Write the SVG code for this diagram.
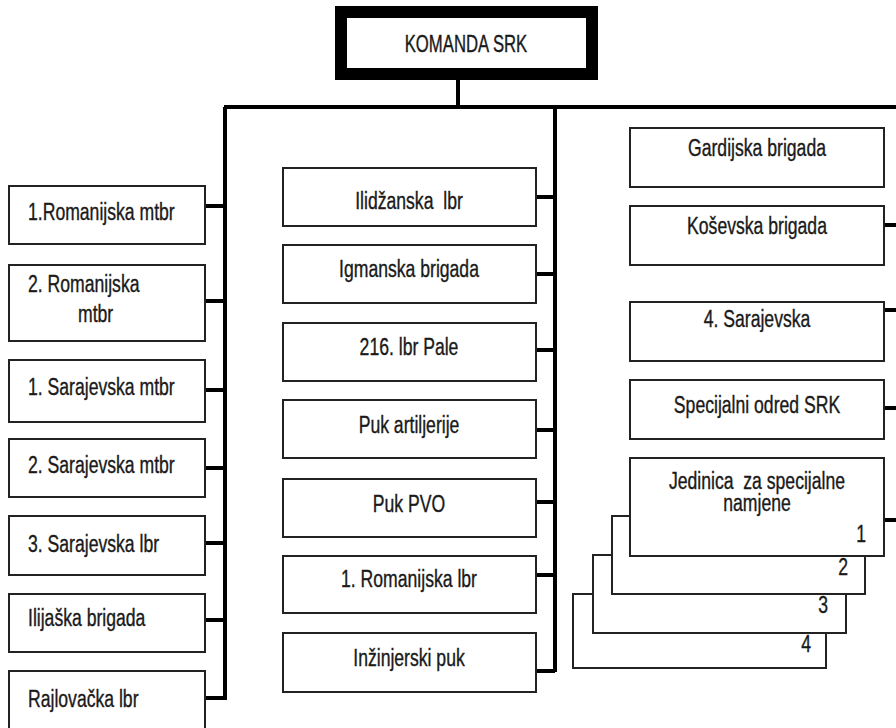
<svg xmlns="http://www.w3.org/2000/svg" width="896" height="728" viewBox="0 0 896 728">
<style>
.bg{fill:#fff}
.box{fill:#fff;stroke:#222;stroke-width:2}
.top{fill:#fff;stroke:#000;stroke-width:12}
.con{fill:none;stroke:#000;stroke-width:4}
text{font-family:"Liberation Sans",Arial,sans-serif;font-size:22px;fill:#1a1a1a;stroke:#1a1a1a;stroke-width:0.35}
.c{text-anchor:middle}
.e{text-anchor:end}
</style>
<rect class="bg" x="0" y="0" width="896" height="728"/>

<g id="connectors">
<path class="con" d="M458 80V107M224 107H900M225 107V700M555 107V672"/>
<path class="con" d="M205 206H225M205 301H225M205 390H225M205 468H225M205 543H225M205 620H225M205 698H225"/>
<path class="con" d="M536 197H555M536 274H555M536 350H555M536 430H555M536 502H555M536 575H555M536 671H555"/>
<path class="con" d="M884 225H900M884 310H900M884 408H900M884 520H900"/>
</g>

<g id="komanda">
<rect class="top" x="341" y="12" width="251" height="62"/>
<text class="c" transform="matrix(0.76 0 0 1.1 466 52)">KOMANDA SRK</text>
</g>

<g id="l1"><rect class="box" x="9" y="186" width="196" height="58"/><text transform="matrix(0.8 0 0 1.12 28 220)">1.Romanijska mtbr</text></g>
<g id="l2"><rect class="box" x="9" y="265" width="196" height="76"/><text transform="matrix(0.8 0 0 1.12 28 292)">2. Romanijska</text><text transform="matrix(0.8 0 0 1.12 78 322)">mtbr</text></g>
<g id="l3"><rect class="box" x="9" y="360" width="196" height="62"/><text transform="matrix(0.8 0 0 1.12 28 395)">1. Sarajevska mtbr</text></g>
<g id="l4"><rect class="box" x="9" y="439" width="196" height="58"/><text transform="matrix(0.8 0 0 1.12 28 473)">2. Sarajevska mtbr</text></g>
<g id="l5"><rect class="box" x="9" y="516" width="196" height="59"/><text transform="matrix(0.8 0 0 1.12 28 552)">3. Sarajevska lbr</text></g>
<g id="l6"><rect class="box" x="9" y="594" width="196" height="58"/><text transform="matrix(0.8 0 0 1.12 28 626)">Ilijaška brigada</text></g>
<g id="l7"><rect class="box" x="9" y="671" width="196" height="70"/><text transform="matrix(0.8 0 0 1.12 28 707)">Rajlovačka lbr</text></g>

<g id="m1"><rect class="box" x="283" y="168" width="253" height="58"/><text class="c" transform="matrix(0.8 0 0 1.12 409 209)">Ilidžanska&#160; lbr</text></g>
<g id="m2"><rect class="box" x="283" y="245" width="253" height="58"/><text class="c" transform="matrix(0.8 0 0 1.12 409 277)">Igmanska brigada</text></g>
<g id="m3"><rect class="box" x="283" y="323" width="253" height="58"/><text class="c" transform="matrix(0.8 0 0 1.12 409 355)">216. lbr Pale</text></g>
<g id="m4"><rect class="box" x="283" y="400" width="253" height="58"/><text class="c" transform="matrix(0.8 0 0 1.12 409 433)">Puk artiljerije</text></g>
<g id="m5"><rect class="box" x="283" y="479" width="253" height="58"/><text class="c" transform="matrix(0.8 0 0 1.12 409 512)">Puk PVO</text></g>
<g id="m6"><rect class="box" x="283" y="556" width="253" height="57"/><text class="c" transform="matrix(0.8 0 0 1.12 409 587)">1. Romanijska lbr</text></g>
<g id="m7"><rect class="box" x="283" y="633" width="253" height="59"/><text class="c" transform="matrix(0.8 0 0 1.12 409 666)">Inžinjerski puk</text></g>

<g id="r1"><rect class="box" x="630" y="128" width="254" height="59"/><text class="c" transform="matrix(0.8 0 0 1.12 757 156)">Gardijska brigada</text></g>
<g id="r2"><rect class="box" x="630" y="206" width="254" height="59"/><text class="c" transform="matrix(0.8 0 0 1.12 757 234)">Koševska brigada</text></g>
<g id="r3"><rect class="box" x="630" y="302" width="254" height="59"/><text class="c" transform="matrix(0.8 0 0 1.12 757 327)">4. Sarajevska</text></g>
<g id="r4"><rect class="box" x="630" y="380" width="254" height="59"/><text class="c" transform="matrix(0.8 0 0 1.12 757 413)">Specijalni odred SRK</text></g>

<g id="jedinica4"><rect class="box" x="573" y="594" width="253" height="74"/><text class="e" transform="matrix(0.8 0 0 1.12 811 652)">4</text></g>
<g id="jedinica3"><rect class="box" x="593" y="555" width="253" height="78"/><text class="e" transform="matrix(0.8 0 0 1.12 828 613)">3</text></g>
<g id="jedinica2"><rect class="box" x="612" y="516" width="253" height="78"/><text class="e" transform="matrix(0.8 0 0 1.12 848 575)">2</text></g>
<g id="jedinica1"><rect class="box" x="630" y="458" width="254" height="98"/><text class="c" transform="matrix(0.8 0 0 1.12 757 489)">Jedinica&#160; za specijalne</text><text class="c" transform="matrix(0.8 0 0 1.12 757 511)">namjene</text><text class="e" transform="matrix(0.8 0 0 1.12 866 542)">1</text></g>
</svg>
